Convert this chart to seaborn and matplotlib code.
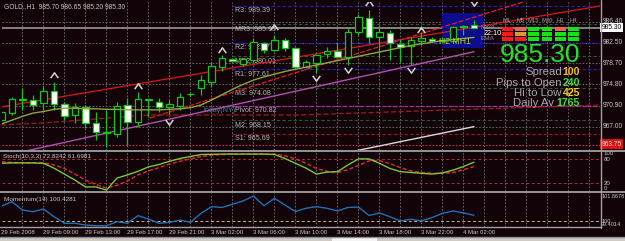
import numpy as np
import pandas as pd
import matplotlib
matplotlib.use("Agg")
import matplotlib.pyplot as plt
from matplotlib.path import Path
from matplotlib.patches import Rectangle
from matplotlib.lines import Line2D
from matplotlib import font_manager
import seaborn as sns

sns.set_style("dark")
plt.rcParams["font.family"] = ["Liberation Sans", "DejaVu Sans"]
_names = {f.name for f in font_manager.fontManager.ttflist}
NARROW = ["Liberation Sans Narrow", "Liberation Sans", "DejaVu Sans"] \
    if "Liberation Sans Narrow" in _names else ["Liberation Sans", "DejaVu Sans"]
NSCALE = 1.0 if "Liberation Sans Narrow" in _names else 0.85

# ---------------------------------------------------------------- data
header_text = "GOLD.,H1  985.70 986.65 985.20 985.30"

opens = [968.20, 969.58, 972.00, 971.93, 971.32, 973.53, 971.13, 969.15, 970.58, 967.62,
         966.00, 965.59, 970.95, 967.92, 971.93, 971.61, 970.60, 970.80, 973.00, 974.10,
         975.30, 978.00, 979.45, 978.50, 979.32, 982.50, 981.17, 983.02, 981.48, 978.08,
         978.82, 980.37, 980.98, 979.93, 984.55, 987.03, 983.52, 984.37, 982.28, 981.96,
         982.89, 983.20, 982.90, 982.89, 985.50, 985.70]
highs = [969.90, 972.54, 974.10, 972.85, 974.51, 975.31, 971.61, 971.40, 971.00, 969.76,
         970.08, 971.61, 972.24, 973.35, 972.00, 972.24, 971.93, 973.17, 973.20, 976.55,
         979.00, 980.20, 979.60, 979.63, 983.33, 982.70, 983.94, 983.30, 981.78, 979.32,
         980.40, 981.78, 982.52, 985.18, 987.80, 988.56, 985.79, 984.87, 983.15, 983.63,
         984.26, 983.50, 983.60, 985.60, 985.79, 986.65]
lows = [967.90, 969.15, 970.10, 970.08, 970.08, 970.08, 968.23, 967.68, 966.75, 964.53,
        963.29, 965.14, 963.61, 967.00, 968.84, 969.76, 969.30, 970.08, 972.60, 972.85,
        974.30, 977.34, 979.00, 978.30, 978.70, 980.60, 981.00, 980.90, 977.79, 977.80,
        976.86, 979.63, 979.63, 978.40, 983.94, 982.41, 979.63, 979.32, 979.01, 978.40,
        982.09, 982.60, 982.50, 982.70, 983.94, 985.20]
closes = [969.70, 972.06, 972.10, 971.05, 973.65, 971.19, 969.02, 970.69, 967.62, 966.07,
          965.88, 970.82, 967.92, 972.06, 971.95, 970.58, 971.20, 972.40, 973.05, 975.60,
          978.20, 979.60, 979.14, 979.45, 982.70, 981.17, 983.02, 981.48, 978.08, 978.90,
          980.24, 980.98, 979.93, 984.55, 987.21, 983.52, 984.44, 982.41, 981.78, 983.02,
          983.33, 982.89, 983.10, 985.36, 985.60, 985.30]

ma_values = [967.5, 968.2, 968.9, 969.5, 969.8, 970.2, 970.4, 970.4, 970.3, 970.3,
             970.2, 970.2, 970.1, 970.1, 970.1, 970.1, 970.2, 970.3, 970.5, 971.0,
             971.9, 972.9, 973.9, 974.8, 975.6, 976.2, 976.7, 977.2, 977.6, 978.0,
             978.4, 978.8, 979.2, 979.6, 980.0, 980.4, 980.8, 981.2, 981.6, 982.0,
             982.3, 982.6, 982.9, 983.1, 983.3, 983.5]

stoch_k = [70, 71, 71, 71, 70, 58, 43, 28, 11, 11, 3, 33, 41, 50, 61, 67, 75, 82, 87, 92,
           92.5, 93, 93, 93, 93, 93, 92, 82, 70, 58, 43, 48, 49, 66, 81, 81, 70, 57, 49, 47,
           45, 43, 46, 53, 62, 72.8242]
stoch_d = [74, 72, 71, 71, 71, 66, 57, 43, 28, 17, 8, 15, 26, 41, 51, 59, 68, 75, 81, 87,
           90, 92, 93, 93, 93, 93, 93, 89, 81, 70, 57, 50, 47, 54, 65, 76, 77, 69, 59, 51,
           47, 45, 45, 47, 54, 61.6981]
momentum = [101.12, 101.44, 100.82, 100.69, 100.90, 100.32, 99.83, 99.83, 99.70, 99.65,
            99.65, 99.95, 99.83, 100.40, 100.15, 99.83, 99.90, 100.07, 99.90, 100.57,
            101.07, 101.01, 101.25, 101.49, 101.87, 101.14, 101.69, 101.19, 100.71, 100.95,
            101.07, 100.95, 100.75, 101.01, 101.04, 100.41, 100.60, 100.32, 100.00, 100.13,
            100.00, 100.26, 100.57, 100.75, 100.60, 100.4281]

time_labels = ["29 Feb 2008", "29 Feb 09:00", "29 Feb 13:00", "29 Feb 17:00", "29 Feb 21:00",
               "3 Mar 02:00", "3 Mar 06:00", "3 Mar 10:00", "3 Mar 14:00", "3 Mar 18:00",
               "3 Mar 22:00", "4 Mar 02:00"]
time_label_bars = [0, 4, 8, 12, 16, 20, 24, 28, 32, 36, 40, 44]

axis_prices = [986.40, 982.50, 978.70, 974.80, 970.90, 967.00]
bid_price = 985.30
low_mark_price = 963.75
mom_axis_labels = ["101.8678", "100", "99.4014"]
stoch_axis_labels = ["100", "80", "20", "0"]

pivot_names = ["R3", "MR3", "R2", "MR2", "R1", "M3", "Pivot", "M2", "S1"]
pivot_values = [989.39, 985.95, 982.47, 980.01, 977.61, 974.08, 970.82, 968.15, 965.69]
pivot_kinds = ["R", "M", "R", "M", "R", "M", "P", "M", "S"]
pivot_start_bar = 21.95

fractal_up_bars = [5, 13, 21, 26, 35, 40]
fractal_up_prices = [976.55, 974.51, 981.17, 985.42, 989.80, 984.87]
fractal_dn_bars = [16, 30, 33, 39, 45]
fractal_dn_prices = [967.86, 976.00, 977.47, 977.47, 989.86]

line_a_bars, line_a_prices = [0, 57], [970.65, 989.30]
line_b_bars, line_b_prices = [14.15, 50.0], [968.60, 990.23]
line_l_bars, line_l_prices = [0, 3.95, 13.9, 28.4, 57], [967.31, 967.68, 969.15, 969.15, 971.00]
line_m_bars, line_m_prices = [0, 45], [961.50, 980.85]
line_w_bars, line_w_prices = [30, 45], [961.05, 967.00]

box_bars = [41.95, 45.86]
box_prices = [981.50, 987.97]

signal_tfs = ["M1", "M5", "M15", "M30", "H1", "H4"]
signal_states = [["dn", "dn2", "up", "up", "dn2", "up"],
                 ["dn", "wk", "up", "up", "up", "up"],
                 ["dn", "dn", "up", "up", "up", "up"]]
info_labels = ["Spread", "Pips to Open", "Hi to Low", "Daily Av"]
info_values = ["100", "240", "425", "1765"]

# ---------------------------------------------------------------- style
W, H = 625, 241
BG = "#120308"
WICK = "#12c812"
GRID = "#767676"
TXT = "#c8c8c8"
state_colors = {"dn": "#ff1a1a", "dn2": "#e8625a", "wk": "#d89a30", "up": "#14e414"}
info_val_colors = ["#f0c010", "#3ce03c", "#f0d020", "#3ce03c"]
info_lab_right = [562, 562, 562, 554]
info_rows = [72, 82.5, 92.5, 102.5]
kind_style = {"R": ("#2020c8", (0, (3, 2))), "M": ("#2a5a2a", (0, (3, 2))),
              "P": ("#c020c0", (0, (3, 2))), "S": ("#9a1818", (0, (3, 2)))}


def ns(size):
    return size * NSCALE


def fx(x):
    return x / W


def fy(y):
    return 1 - y / H


def ftext(x, y, s, **kw):
    fig.text(fx(x), fy(y), s, **kw)


def fline(x0, y0, x1, y1, color, lw):
    fig.add_artist(Line2D([fx(x0), fx(x1)], [fy(y0), fy(y1)], transform=fig.transFigure,
                          color=color, lw=lw, zorder=5))


fig = plt.figure(figsize=(W / 100, H / 100), dpi=100, facecolor=BG)

ax = fig.add_axes([fx(2), fy(150), 598 / W, 148 / H])
ax_s = fig.add_axes([fx(2), fy(190.5), 598 / W, (190.5 - 151.3) / H])
ax_m = fig.add_axes([fx(2), fy(226.7), 598 / W, (226.7 - 193.3) / H])

for a in (ax, ax_s, ax_m):
    a.set_facecolor(BG)
    a.set_xlim(0.05, 57.0)
    for sp in a.spines.values():
        sp.set_visible(False)
    a.set_xticks([])
    a.set_yticks([])
    a.grid(False)
    for b in range(2, 58, 2):
        a.axvline(b, color=GRID, lw=0.6, ls=(0, (2, 2)), zorder=0.5)

ax.set_ylim(962.68, 990.04)
ax_s.set_ylim(2, 100)
ax_m.set_ylim(99.575, 102.067)

# ---------------------------------------------------------------- main panel
for p in axis_prices:
    ax.axhline(p, color=GRID, lw=0.6, ls=(0, (2, 2)), zorder=0.5)
ax.axhline(bid_price, color="#8c8c8c", lw=1.3, zorder=1)
ax.axhline(low_mark_price - 0.15, color="#c0306a", lw=0.8, ls=(0, (1.5, 1.5)), zorder=1)

for name, val, kind in zip(pivot_names, pivot_values, pivot_kinds):
    col, ls = kind_style[kind]
    ax.plot([pivot_start_bar, 57], [val, val], color=col, lw=0.8, ls=ls, zorder=1)
    ax.annotate(f"{name}: {val:.2f}", (pivot_start_bar + 0.25, val), xytext=(0, -1.0),
                textcoords="offset points", va="top", ha="left", fontsize=ns(6.0),
                family=NARROW, color="#b8b8b8", zorder=1.5)
ax.annotate("today(NY)", (19.3, pivot_values[6]), xytext=(0, -1.0), textcoords="offset points",
            va="top", ha="left", fontsize=ns(6.0), family=NARROW, color="#2a9090", zorder=1.4)

ax.add_patch(Rectangle((box_bars[0], box_prices[0]), box_bars[1] - box_bars[0],
                       box_prices[1] - box_prices[0], facecolor="#0c0c8c", edgecolor="none",
                       zorder=1.2))

df_lines = {
    "a": (line_a_bars, line_a_prices, "#d81818", "-", 0.9),
    "b": (line_b_bars, line_b_prices, "#e02020", (0, (4, 1.5)), 0.9),
    "l": (line_l_bars, line_l_prices, "#a01c1c", (0, (4, 2)), 0.9),
    "m": (line_m_bars, line_m_prices, "#b050b0", "-", 1.0),
    "w": (line_w_bars, line_w_prices, "#d8d8d8", "-", 1.0),
}
for key, (xs, ys, col, ls, lw) in df_lines.items():
    sns.lineplot(x=xs, y=ys, ax=ax, color=col, lw=lw, zorder=2)
    ax.lines[-1].set_linestyle(ls)

bars = np.arange(len(opens))
sns.lineplot(x=bars, y=ma_values, ax=ax, color="#8aa83a", lw=1.0, zorder=5)

o = np.array(opens)
c = np.array(closes)
bull = c >= o
body_lo = np.minimum(o, c)
body_h = np.maximum(np.abs(c - o), 0.12)
ax.vlines(bars, lows, highs, color=WICK, lw=0.9, zorder=3)
ax.bar(bars[bull], body_h[bull], bottom=body_lo[bull], width=0.64, facecolor=BG,
       edgecolor=WICK, lw=0.9, zorder=4)
ax.bar(bars[~bull], body_h[~bull], bottom=body_lo[~bull], width=0.64, facecolor="white",
       edgecolor=WICK, lw=0.9, zorder=4)

up_marker = Path([(-1, -0.7), (0, 0.7), (1, -0.7)], [Path.MOVETO, Path.LINETO, Path.LINETO])
dn_marker = Path([(-1, 0.7), (0, -0.7), (1, 0.7)], [Path.MOVETO, Path.LINETO, Path.LINETO])
ax.plot(fractal_up_bars, fractal_up_prices, ls="none", marker=up_marker, ms=5.5, mfc="none",
        mec="#d4d4d4", mew=1.1, zorder=6)
ax.plot(fractal_dn_bars, fractal_dn_prices, ls="none", marker=dn_marker, ms=5.5, mfc="none",
        mec="#d4d4d4", mew=1.1, zorder=6)

ax.text(41.7, 982.65, "H2 MH1", fontsize=6.2, color="#b8c832", va="center", ha="left", zorder=7)

ytr = ax.get_yaxis_transform()
for p in axis_prices:
    ax.text(1.004, p, f"{p:.2f}", transform=ytr, fontsize=ns(5.6), family=NARROW, color=TXT,
            va="center", ha="left", clip_on=False)
ax.text(1.0028, bid_price, f"{bid_price:.2f}", transform=ytr, fontsize=ns(5.6), family=NARROW,
        color="black", va="center", ha="left", clip_on=False,
        bbox=dict(boxstyle="square,pad=0.2", facecolor="white", edgecolor="none"))
ax.text(1.0028, low_mark_price, f"{low_mark_price:.2f}", transform=ytr, fontsize=ns(5.6),
        family=NARROW, color="#e8e8e8", va="center", ha="left", clip_on=False,
        bbox=dict(boxstyle="square,pad=0.2", facecolor="#e01010", edgecolor="none"))

# ---------------------------------------------------------------- stochastic
ax_s.axhline(80, color="#a83030", lw=0.7, ls=(0, (3, 2.5)), zorder=0.6)
ax_s.axhline(20, color="#a83030", lw=0.7, ls=(0, (3, 2.5)), zorder=0.6)
sns.lineplot(x=bars, y=stoch_k, ax=ax_s, color="#7cc832", lw=1.0, zorder=3)
sns.lineplot(x=bars, y=stoch_d, ax=ax_s, color="#e02838", lw=1.0, zorder=2)
ax_s.lines[-1].set_linestyle((0, (3, 1.5)))
ytr_s = ax_s.get_yaxis_transform()
for lab, yv, va in zip(stoch_axis_labels, [100, 80, 20, 0.5], ["top", "center", "center", "bottom"]):
    ax_s.text(1.006, yv, lab, transform=ytr_s, fontsize=ns(5.2), family=NARROW, color=TXT,
              va=va, clip_on=False)

# ---------------------------------------------------------------- momentum
ax_m.axhline(100, color="#c8b47a", lw=0.7, ls=(0, (3, 2.5)), zorder=0.6)
sns.lineplot(x=bars, y=momentum, ax=ax_m, color="#1f70b8", lw=1.0, zorder=3)
ytr_m = ax_m.get_yaxis_transform()
for lab, yv, va in zip(mom_axis_labels, [102.05, 100, 99.58], ["top", "center", "bottom"]):
    ax_m.text(1.002, yv, lab, transform=ytr_m, fontsize=ns(4.7), family=NARROW, color=TXT,
              va=va, clip_on=False)

xtr = ax_m.get_xaxis_transform()
for b, lab in zip(time_label_bars, time_labels):
    ax_m.text(b - 0.05, -0.16, lab, transform=xtr, fontsize=ns(5.1), family=NARROW, color=TXT,
              va="center", ha="left", clip_on=False)

# ---------------------------------------------------------------- headers
ftext(4, 7, header_text, fontsize=ns(5.6), family=NARROW, color=TXT, va="center", ha="left")
ftext(3, 156.5, f"Stoch(10,3,3) {stoch_k[-1]:.4f} {stoch_d[-1]:.4f}", fontsize=ns(5.4),
      family=NARROW, color=TXT, va="center", ha="left")
ftext(4, 200, f"Momentum(14) {momentum[-1]:.4f}", fontsize=ns(5.4), family=NARROW, color=TXT,
      va="center", ha="left")

# ---------------------------------------------------------------- signal grid + info
for k, tf in enumerate(signal_tfs):
    x0 = 501.7 + 13.3 * k
    ftext(x0 + 5.4, 20.5, tf, fontsize=4.2, color="#a0a0a0", ha="center", va="center")
    for r in range(3):
        y0 = 27.2 + 5.0 * r
        fig.add_artist(Rectangle((fx(x0), fy(y0 + 3.4)), 10.8 / W, 3.4 / H,
                                 transform=fig.transFigure,
                                 facecolor=state_colors[signal_states[r][k]],
                                 edgecolor="none", zorder=6))
ftext(481, 27.5, "NY/4", fontsize=4.6, color="#9090a0", ha="left", va="center", zorder=7)
ftext(484, 33.3, "22:10", fontsize=5.2, color="white", ha="left", va="center", zorder=7)
ftext(481, 38.5, "EMA", fontsize=4.6, color="#9090a0", ha="left", va="center", zorder=7)

ftext(580.5, 55, f"{closes[-1]:.2f}", fontsize=19, color="#22e422", ha="right", va="center",
      zorder=7)
for lab, val, yy, xr, vc in zip(info_labels, info_values, info_rows, info_lab_right,
                                info_val_colors):
    ftext(xr, yy, lab, fontsize=8.2, color="#a8a8a8", ha="right", va="center", zorder=7)
    ftext(580, yy, val, fontsize=7.6, color=vc, ha="right", va="center", zorder=7,
          fontweight="bold")

# ---------------------------------------------------------------- frame
fline(0, 150.6, 625, 150.6, "#a0a0a0", 1.3)
fline(0, 191.8, 625, 191.8, "#a0a0a0", 1.3)
fline(0, 227.4, 600.5, 227.4, "#a0a0a0", 1.0)
fline(600.5, 0, 600.5, 228, "#a0a0a0", 1.0)
fline(0, 237.3, 625, 237.3, "#8c8c8c", 1.0)
fig.add_artist(Rectangle((0, 0), 1, 3.2 / H, transform=fig.transFigure,
                         facecolor="#cfcbc3", edgecolor="none", zorder=4))
fig.add_artist(Rectangle((fx(332), 0), 45 / W, 3.2 / H, transform=fig.transFigure,
                         facecolor="#f4f4f4", edgecolor="none", zorder=4.5))

fig.savefig("out.png", dpi=100, facecolor=BG)
